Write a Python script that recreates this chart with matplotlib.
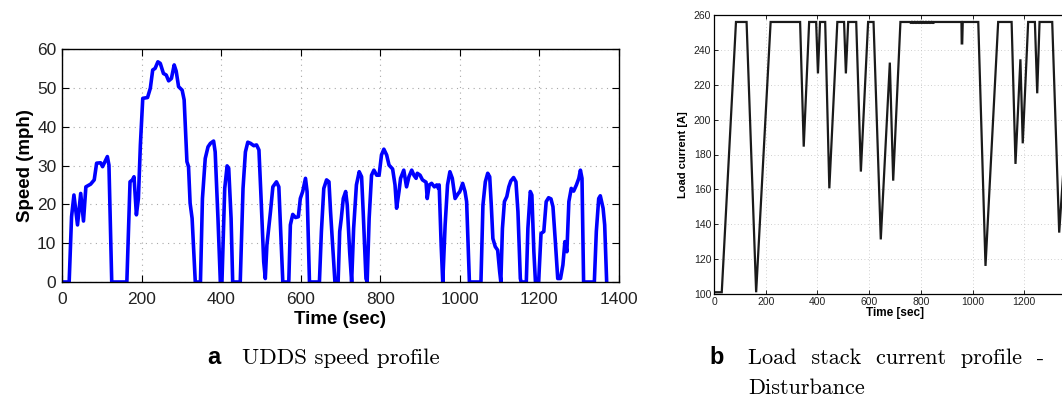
import matplotlib
matplotlib.use("Agg")
import matplotlib.pyplot as plt

# ---- UDDS speed profile (time s, speed mph) ----
udds_t = [0, 18, 24, 30, 39, 47, 54, 60, 72, 81, 87, 97, 102, 108, 114, 118, 125, 163,
          171, 177, 181, 187, 192, 197, 203, 215, 222, 228, 234, 241, 247, 255, 262, 268,
          275, 282, 287, 293, 302, 307, 314, 318, 322, 327, 335, 348, 353, 360, 367, 373,
          381, 385, 392, 398, 402, 409, 415, 419, 425, 429, 448, 455, 461, 467, 474, 482,
          489, 495, 500, 507, 511, 515, 524, 530, 539, 545, 552, 555, 570, 574, 580, 587,
          594, 599, 605, 612, 616, 622, 647, 652, 658, 665, 671, 675, 686, 694, 698, 702,
          707, 713, 717, 723, 728, 733, 740, 747, 753, 757, 764, 767, 772, 778, 784, 791,
          797, 803, 809, 816, 822, 831, 837, 841, 847, 851, 859, 866, 872, 879, 885, 890,
          893, 900, 906, 915, 918, 923, 929, 936, 942, 946, 948, 953, 957, 963, 969, 975,
          981, 988, 996, 1000, 1007, 1013, 1017, 1024, 1053, 1058, 1064, 1070, 1075, 1079,
          1083, 1089, 1095, 1100, 1103, 1107, 1112, 1118, 1123, 1128, 1135, 1141, 1146,
          1152, 1154, 1167, 1171, 1177, 1181, 1186, 1190, 1198, 1204, 1211, 1217, 1223,
          1229, 1234, 1240, 1246, 1253, 1259, 1264, 1269, 1274, 1280, 1286, 1293, 1299,
          1303, 1307, 1311, 1338, 1343, 1349, 1353, 1360, 1364, 1369]
udds_v = [0, 0, 16.8, 22.4, 14.7, 22.8, 15.7, 24.5, 25.2, 26.3, 30.6, 30.7, 29.7, 31.0,
          32.3, 30.1, 0, 0, 25.8, 26.3, 27.1, 17.3, 21.5, 35.3, 47.3, 47.5, 49.9, 54.6,
          55.0, 56.7, 56.3, 53.7, 53.3, 51.8, 52.4, 55.9, 54.3, 50.3, 49.4, 46.9, 31.0,
          29.7, 20.3, 16.4, 0, 0, 21.5, 31.8, 34.8, 35.7, 36.3, 33.5, 16.4, 0, 0, 24.1,
          29.9, 29.3, 16.4, 0, 0, 24.1, 33.5, 36.0, 35.7, 35.1, 35.3, 34.0, 22.4, 5.2,
          0.9, 9.5, 18.1, 24.5, 25.8, 24.5, 7.8, 0, 0, 14.7, 17.4, 16.6, 16.8, 21.5,
          23.3, 26.7, 23.3, 0, 0, 13.0, 24.1, 26.3, 25.8, 18.1, 0, 0, 13.0, 16.4, 21.5,
          23.3, 19.8, 7.8, 0, 13.8, 25.0, 28.4, 27.1, 18.1, 0.9, 0, 16.4, 27.5, 28.8,
          27.5, 27.5, 32.7, 34.2, 32.7, 30.1, 29.1, 25.0, 19.0, 23.3, 26.7, 28.8, 24.5,
          27.1, 28.8, 27.4, 26.7, 28.0, 27.5, 26.3, 25.7, 21.5, 25.0, 25.4, 24.5, 25.0,
          24.1, 25.0, 9.5, 0, 14.7, 25.0, 28.4, 26.7, 21.5, 22.8, 23.3, 25.4, 23.3, 20.7,
          0, 0, 19.8, 25.8, 28.0, 27.1, 19.8, 11.2, 9.1, 8.2, 2.7, 0, 13.8, 20.7, 22.0,
          24.5, 26.0, 26.9, 25.8, 18.1, 0.9, 0, 0, 13.8, 23.3, 22.4, 7.8, 0, 0, 12.5,
          13.0, 20.7, 21.7, 21.4, 19.4, 10.4, 0.9, 0.9, 4.4, 10.4, 7.8, 20.7, 24.1, 23.4,
          25.0, 26.7, 28.8, 26.7, 0, 0, 13.0, 21.5, 22.2, 19.0, 14.7, 0]

# ---- Load stack current profile (time s, current A) ----
load_t = [0, 30, 85, 126, 163, 219, 333, 347, 368, 395, 402, 410, 430, 446, 477, 503,
          510, 519, 550, 568, 596, 617, 645, 680, 693, 721, 757,
          760, 763, 766, 769, 772, 775, 778, 781, 784, 787, 790, 793, 796, 799, 802, 805,
          808, 811, 814, 817, 820, 823, 826, 829, 832, 835, 838, 841, 844, 847, 850, 853,
          856, 957, 958, 960, 962, 1022, 1050, 1099, 1151, 1166, 1185,
          1194, 1215, 1241, 1250, 1259, 1308, 1335, 1390, 1400]
load_a = [101, 101, 256, 256, 101, 256, 256, 184.5, 256, 256, 226.5, 256, 256, 160.6,
          256, 256, 226.5, 256, 256, 170.2, 256, 256, 131.3, 232.7, 165, 256, 256,
          255.6, 256, 255.6, 256, 255.6, 256, 255.6, 256, 255.6, 256, 255.6, 256, 255.6,
          256, 255.6, 256, 255.6, 256, 255.6, 256, 255.6, 256, 255.6, 256, 255.6, 256,
          255.6, 256, 255.6, 256, 255.6, 256, 256,
          256, 243.7, 243.7, 256, 256, 116.1, 256, 256, 174.6, 234.6, 186.4, 256, 256,
          215.1, 256, 256, 135.2, 256, 256]

speed_xticks = [0, 200, 400, 600, 800, 1000, 1200, 1400]
speed_yticks = [0, 10, 20, 30, 40, 50, 60]
load_xticks = [0, 200, 400, 600, 800, 1000, 1200]
load_yticks = [100, 120, 140, 160, 180, 200, 220, 240, 260]

W, H = 1062, 403
fig = plt.figure(figsize=(W / 100, H / 100), dpi=100)
sans = ["Liberation Sans", "DejaVu Sans"]
serif = ["cmr10", "DejaVu Serif"]
grid_kw = dict(color="#a8a8a8", linestyle=(0, (1, 4)), linewidth=0.8)

# Left axes
ax1 = fig.add_axes([62 / W, 1 - 282 / H, (619 - 62) / W, (282 - 49) / H])
ax1.plot(udds_t, udds_v, color="#0000ff", linewidth=2.6, solid_joinstyle="round")
ax1.set_xlim(0, 1400)
ax1.set_ylim(0, 60)
ax1.set_xticks(speed_xticks)
ax1.set_yticks(speed_yticks)
ax1.tick_params(direction="in", top=True, right=True, length=5, width=0.8,
                labelsize=12.5, colors="black")
ax1.tick_params(axis="x", pad=7)
ax1.tick_params(axis="y", pad=4)
for lab in ax1.get_xticklabels() + ax1.get_yticklabels():
    lab.set_family(sans)
    lab.set_color("#222222")
ax1.grid(True, **grid_kw)
ax1.set_xlabel("Time (sec)", fontsize=13.5, fontweight="bold", family=sans, labelpad=3)
ax1.set_ylabel("Speed (mph)", fontsize=13.5, fontweight="bold", family=sans, labelpad=2)
for s in ax1.spines.values():
    s.set_linewidth(1.0)

# Right axes (extends past the figure edge)
ax2 = fig.add_axes([714 / W, 1 - 294 / H, (1076 - 714) / W, (294 - 15) / H])
ax2.plot(load_t, load_a, color="#1a1a1a", linewidth=1.6, solid_joinstyle="miter")
ax2.set_xlim(0, 1400)
ax2.set_ylim(100, 260)
ax2.set_xticks(load_xticks)
ax2.set_yticks(load_yticks)
ax2.tick_params(direction="in", top=True, right=True, length=3, width=0.6,
                labelsize=7.5, pad=2)
for lab in ax2.get_xticklabels() + ax2.get_yticklabels():
    lab.set_family(sans)
    lab.set_color("#222222")
ax2.grid(True, color="#c0c0c0", linestyle=(0, (1, 3)), linewidth=0.6)
ax2.set_xlabel("Time [sec]", fontsize=8.5, fontweight="bold", family=sans, labelpad=0)
ax2.set_ylabel("Load current [A]", fontsize=8, fontweight="bold", family=sans, labelpad=4)
for s in ax2.spines.values():
    s.set_linewidth(0.9)

# Captions
fig.text(207 / W, 1 - 357 / H, "a", fontsize=17, fontweight="bold", family=sans,
         ha="left", va="center")
fig.text(242 / W, 1 - 358 / H, "UDDS speed profile", fontsize=16.5, family=serif,
         ha="left", va="center")
fig.text(709 / W, 1 - 357 / H, "b", fontsize=17, fontweight="bold", family=sans,
         ha="left", va="center")
fig.text(748 / W, 1 - 358 / H, "Load  stack  current  profile  -", fontsize=16,
         family=serif, ha="left", va="center")
fig.text(748 / W, 1 - 388 / H, "Disturbance", fontsize=16, family=serif,
         ha="left", va="center")

fig.savefig("out.png", dpi=100)
